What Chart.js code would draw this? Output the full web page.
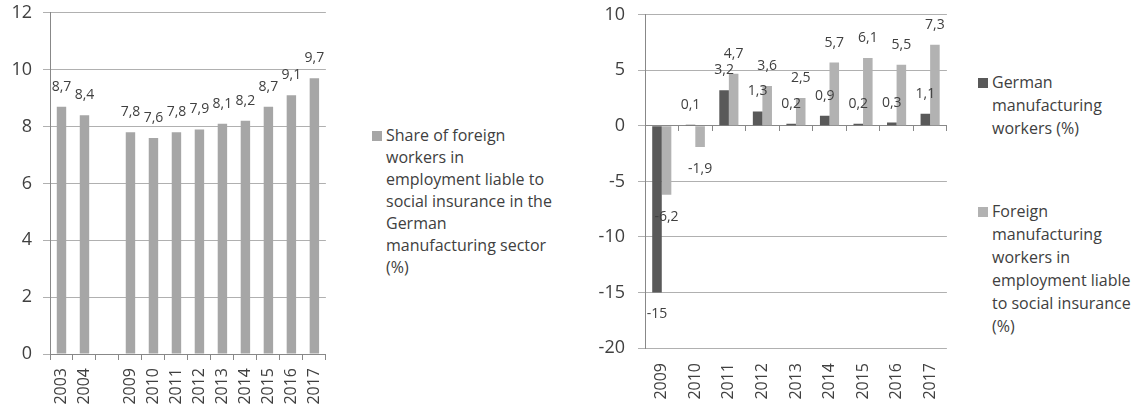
<!DOCTYPE html>
<html>
<head>
<meta charset="utf-8">
<script src="https://cdn.jsdelivr.net/npm/chart.js@4/dist/chart.umd.min.js"></script>
<style>
  body { margin: 0; background: #fff; width: 1136px; height: 407px; position: relative; overflow: hidden; font-family: "Open Sans", sans-serif; color: #404040; }
  .box { position: absolute; top: -9px; }
  .legend { position: absolute; font-size: 16px; color: #404040; }
  .legend .sq { position: absolute; left: 0; width: 10px; height: 10px; }
  .legend .txt { position: absolute; left: 14px; top: 0; white-space: nowrap; }
</style>
</head>
<body>
<div class="box" style="left:0;width:342px;height:416px"><canvas id="leftChart" width="342" height="416"></canvas></div>
<div class="box" style="left:560px;width:405px;height:416px"><canvas id="rightChart" width="405" height="416"></canvas></div>

<div class="legend" style="left:372px;top:124px">
  <div class="sq" style="top:7px;background:#a6a6a6"></div>
  <div class="txt" style="line-height:22px">Share of foreign<br>workers in<br>employment liable to<br>social insurance in the<br>German<br>manufacturing sector<br>(%)</div>
</div>
<div class="legend" style="left:978px;top:71px">
  <div class="sq" style="top:7px;background:#595959"></div>
  <div class="txt" style="line-height:23px">German<br>manufacturing<br>workers (%)</div>
</div>
<div class="legend" style="left:978px;top:200px">
  <div class="sq" style="top:7px;background:#b2b2b2"></div>
  <div class="txt" style="line-height:23px">Foreign<br>manufacturing<br>workers in<br>employment liable<br>to social insurance<br>(%)</div>
</div>

<script>
// ========== DATA ==========
const shareYears = ["2003", "2004", "", "2009", "2010", "2011", "2012", "2013", "2014", "2015", "2016", "2017"];
const shareValues = [8.7, 8.4, null, 7.8, 7.6, 7.8, 7.9, 8.1, 8.2, 8.7, 9.1, 9.7];

const changeYears = ["2009", "2010", "2011", "2012", "2013", "2014", "2015", "2016", "2017"];
const germanChange = [-15, 0.1, 3.2, 1.3, 0.2, 0.9, 0.2, 0.3, 1.1];
const foreignChange = [-6.2, -1.9, 4.7, 3.6, 2.5, 5.7, 6.1, 5.5, 7.3];

const leftTicks = [0, 2, 4, 6, 8, 10, 12];
const rightTicks = [-20, -15, -10, -5, 0, 5, 10];

// ========== STYLE ==========
const TEXT = "#404040";
const GRID = "#b0b0b0";
const AXIS = "#888888";
const FONT = "'Open Sans', sans-serif";

// ======== VALUE LABELS ABOVE/BELOW BARS ========
const valueLabels = {
  id: "valueLabels",
  afterDatasetsDraw(chart) {
    const ctx = chart.ctx;
    ctx.save();
    ctx.font = "14px " + FONT;
    ctx.fillStyle = TEXT;
    ctx.textAlign = "center";
    ctx.textBaseline = "middle";
    chart.data.datasets.forEach((ds, i) => {
      chart.getDatasetMeta(i).data.forEach((bar, j) => {
        const v = ds.data[j];
        if (v === null) return;
        const y = v >= 0 ? bar.y - 20 : bar.y + 22;
        ctx.fillText(String(v).replace(".", ","), bar.x, y);
      });
    });
    ctx.restore();
  },
};

Chart.defaults.font.family = FONT;
Chart.defaults.color = TEXT;

// ======== LEFT CHART ========
new Chart(document.getElementById("leftChart"), {
  type: "bar",
  data: {
    labels: shareYears,
    datasets: [{
      label: "Share of foreign workers (%)",
      data: shareValues,
      backgroundColor: "#a6a6a6",
      categoryPercentage: 1,
      barPercentage: 0.41,
    }],
  },
  options: {
    responsive: false,
    animation: false,
    devicePixelRatio: 1,
    layout: { padding: { top: 4, right: 10, left: 0, bottom: 0 } },
    plugins: { legend: { display: false }, tooltip: { enabled: false } },
    scales: {
      x: {
        grid: { drawOnChartArea: false, tickLength: 6, color: AXIS },
        border: { color: AXIS },
        ticks: { minRotation: 90, maxRotation: 90, padding: 8, font: { size: 16 }, color: TEXT },
        afterFit: (s) => { s.height = 53; },
      },
      y: {
        min: 0,
        max: 12,
        afterBuildTicks: (s) => { s.ticks = leftTicks.map((v) => ({ value: v })); },
        grid: { color: GRID, tickLength: 7 },
        border: { color: AXIS },
        ticks: { padding: 11, font: { size: 18 }, color: TEXT },
        afterFit: (s) => { s.width = 50; },
      },
    },
  },
  plugins: [valueLabels],
});

// ======== RIGHT CHART ========
new Chart(document.getElementById("rightChart"), {
  type: "bar",
  data: {
    labels: changeYears,
    datasets: [
      {
        label: "German manufacturing workers (%)",
        data: germanChange,
        backgroundColor: "#595959",
        categoryPercentage: 0.57,
        barPercentage: 1,
      },
      {
        label: "Foreign manufacturing workers in employment liable to social insurance (%)",
        data: foreignChange,
        backgroundColor: "#b2b2b2",
        categoryPercentage: 0.57,
        barPercentage: 1,
      },
    ],
  },
  options: {
    responsive: false,
    animation: false,
    devicePixelRatio: 1,
    layout: { padding: { top: 4, right: 12, left: 0, bottom: 0 } },
    plugins: { legend: { display: false }, tooltip: { enabled: false } },
    scales: {
      x: {
        grid: { display: false, drawTicks: false },
        border: { display: false },
        ticks: { minRotation: 90, maxRotation: 90, padding: 15, font: { size: 16 }, color: TEXT },
        afterFit: (s) => { s.height = 59; },
      },
      // zero line with its small category ticks
      x0: {
        type: "category",
        labels: changeYears,
        position: { y: 0 },
        offset: true,
        grid: { offset: true, drawOnChartArea: false, tickLength: 5, color: AXIS },
        border: { color: AXIS },
        ticks: { display: false },
      },
      y: {
        min: -20,
        max: 10,
        afterBuildTicks: (s) => { s.ticks = rightTicks.map((v) => ({ value: v })); },
        grid: { color: GRID, tickLength: 7 },
        border: { color: AXIS },
        ticks: { padding: 13, font: { size: 18 }, color: TEXT },
        afterFit: (s) => { s.width = 85; },
      },
    },
  },
  plugins: [valueLabels],
});
</script>
</body>
</html>
